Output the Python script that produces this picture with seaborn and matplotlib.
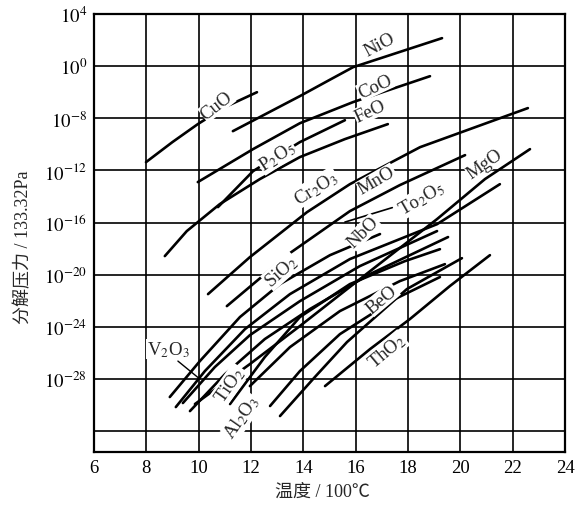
import matplotlib
matplotlib.use("Agg")
import matplotlib.pyplot as plt
import pandas as pd
import seaborn as sns

# y values are given in the figure's own grid units (one grid step = 4),
# the printed tick texts are copied from the figure as they stand
x_ticks = [6, 8, 10, 12, 14, 16, 18, 20, 22, 24]
y_ticks = [4, 0, -4, -8, -12, -16, -20, -24, -28]
y_ticklabels = ["$10^{4}$", "$10^{0}$", "$10^{-8}$", "$10^{-12}$", "$10^{-16}$",
                "$10^{-20}$", "$10^{-24}$", "$10^{-28}$", ""]

cuo_x = [7.99, 9.0, 9.97, 11.0, 12.23]
cuo_y = [-7.36, -5.82, -4.44, -3.14, -1.99]
nio_x = [11.31, 13.87, 15.0, 15.90, 19.30]
nio_y = [-4.98, -2.29, -1.05, -0.07, 2.16]
coo_x = [9.97, 12.08, 13.87, 15.90, 18.84]
coo_y = [-8.89, -6.36, -4.37, -2.75, -0.76]
p2o5_x = [10.74, 12.08, 13.87, 15.59]
p2o5_y = [-10.81, -8.05, -5.82, -4.14]
feo_x = [8.71, 9.55, 10.81, 12.34, 13.87, 15.59, 17.23]
feo_y = [-14.57, -12.65, -10.58, -8.66, -6.97, -5.59, -4.44]
cr2o3_x = [10.36, 11.96, 14.14, 15.78, 18.46, 22.58]
cr2o3_y = [-17.49, -14.65, -11.20, -9.05, -6.21, -3.21]
mno_x = [11.08, 13.49, 15.78, 17.69, 20.18]
mno_y = [-18.41, -14.34, -11.12, -9.12, -6.82]
sio2_x = [8.90, 10.05, 11.58, 13.11, 15.02, 16.93]
sio2_y = [-25.39, -22.63, -19.25, -16.72, -14.50, -12.88]
ta2o5_x = [9.13, 10.24, 11.77, 13.49, 15.78, 19.11, 21.51]
ta2o5_y = [-26.16, -23.40, -20.18, -17.49, -14.80, -12.12, -9.05]
mgo_x = [9.86, 11.96, 13.87, 16.16, 19.11, 20.94, 22.66]
mgo_y = [-25.93, -22.86, -19.94, -16.34, -11.73, -8.66, -6.36]
nbo_x = [9.40, 10.62, 11.96, 13.87, 16.16, 19.11]
nbo_y = [-25.85, -23.09, -20.64, -18.03, -15.34, -12.65]
v2o3_x = [9.67, 11.01, 12.53, 14.25, 16.55, 19.53]
v2o3_y = [-26.47, -23.63, -20.94, -18.64, -15.95, -13.11]
tio2_x = [11.20, 12.53, 13.87, 15.78, 17.88, 19.22]
tio2_y = [-25.93, -22.32, -19.25, -16.72, -14.96, -14.04]
tio2b_x = [11.96, 13.49, 15.40, 17.69, 19.41]
tio2b_y = [-24.55, -21.56, -18.79, -16.49, -15.19]
al2o3_x = [12.73, 13.87, 15.40, 17.50, 19.22]
al2o3_y = [-26.08, -23.40, -20.56, -17.87, -16.18]
beo_x = [13.11, 14.44, 15.67, 17.96, 20.06]
beo_y = [-26.85, -23.86, -21.17, -17.10, -14.73]
tho2_x = [14.83, 16.55, 18.07, 19.60, 21.13]
tho2_y = [-24.55, -21.71, -19.41, -16.87, -14.50]

curves = {
    "CuO": (cuo_x, cuo_y), "NiO": (nio_x, nio_y), "CoO": (coo_x, coo_y),
    "P2O5": (p2o5_x, p2o5_y), "FeO": (feo_x, feo_y), "Cr2O3": (cr2o3_x, cr2o3_y),
    "MnO": (mno_x, mno_y), "SiO2": (sio2_x, sio2_y), "Ta2O5": (ta2o5_x, ta2o5_y),
    "MgO": (mgo_x, mgo_y), "NbO": (nbo_x, nbo_y), "V2O3": (v2o3_x, v2o3_y),
    "TiO2": (tio2_x, tio2_y), "TiO2b": (tio2b_x, tio2b_y),
    "Al2O3": (al2o3_x, al2o3_y), "BeO": (beo_x, beo_y), "ThO2": (tho2_x, tho2_y),
}

# label text, x, y, rotation
labels = [
    ("CuO", 10.70, -2.98, 38), ("NiO", 16.93, 1.70, 28), ("CoO", 16.74, -1.53, 25),
    ("FeO", 16.55, -3.44, 25), ("P$_2$O$_5$", 12.99, -6.90, 33),
    ("Cr$_2$O$_3$", 14.48, -9.30, 32), ("MnO", 16.81, -8.75, 30),
    ("To$_2$O$_5$", 18.53, -10.12, 30), ("MgO", 20.94, -7.51, 35),
    ("SiO$_2$", 13.15, -15.72, 42), ("NbO", 16.28, -12.73, 45),
    ("BeO", 17.00, -17.87, 40), ("ThO$_2$", 17.20, -21.86, 40),
    ("V$_2$O$_3$", 8.83, -21.71, 0), ("TiO$_2$", 11.20, -24.40, 55),
    ("Al$_2$O$_3$", 11.66, -26.93, 55),
]

rows = []
for name, (xs, ys) in curves.items():
    for xv, yv in zip(xs, ys):
        rows.append({"oxide": name, "T": xv, "p": yv})
df = pd.DataFrame(rows)

sns.set_theme(style="white")
plt.rcParams["font.family"] = ["Liberation Serif", "Noto Sans CJK SC", "DejaVu Sans"]
plt.rcParams["mathtext.fontset"] = "stix"

fig = plt.figure(figsize=(5.76, 5.06), dpi=100)
ax = fig.add_axes([0.163, 0.105, 0.818, 0.865])

sns.lineplot(data=df, x="T", y="p", units="oxide", estimator=None, sort=False,
             color="black", linewidth=1.9, ax=ax, zorder=3,
             solid_joinstyle="round", solid_capstyle="round")

ax.set_xlim(6, 24)
ax.set_ylim(-29.6, 4)
ax.set_xticks(x_ticks)
ax.set_yticks(y_ticks)
ax.set_yticklabels(y_ticklabels)
ax.tick_params(length=0, labelsize=13.5, colors="black", pad=5)
ax.grid(True, color="black", linewidth=1.2, zorder=1)
for s in ax.spines.values():
    s.set_color("black")
    s.set_linewidth(1.6)

for txt, xv, yv, rot in labels:
    ax.text(xv, yv, txt, rotation=rot, ha="center", va="center", fontsize=13.5,
            rotation_mode="anchor", zorder=5,
            bbox=dict(facecolor="white", edgecolor="none", pad=0.3))

# leader lines
ax.plot([9.21, 10.05], [-22.63, -24.01], color="black", lw=1.0, zorder=4)
ax.plot([15.59, 17.40], [-11.96, -10.85], color="black", lw=1.2, zorder=4)

ax.set_xlabel("温度 / 100℃", fontsize=13)
ax.set_ylabel("分解压力 / 133.32Pa", fontsize=13)
ax.xaxis.set_label_coords(0.485, -0.07)
ax.yaxis.set_label_coords(-0.13, 0.47)

fig.savefig("out.png", dpi=100)
